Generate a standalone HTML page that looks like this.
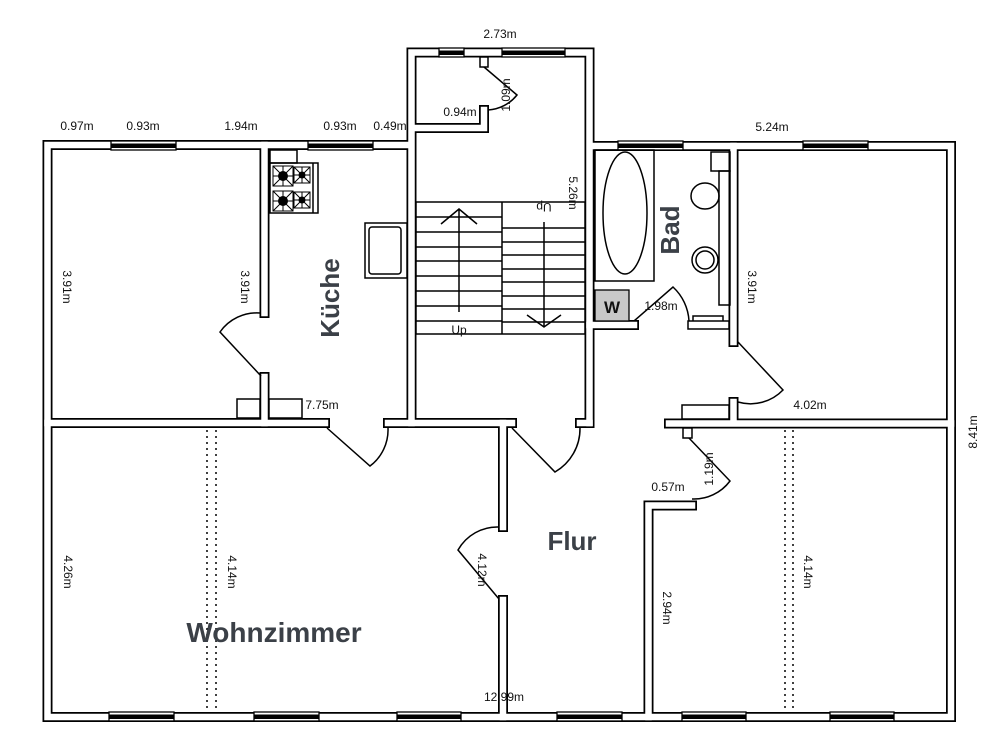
<!DOCTYPE html>
<html><head><meta charset="utf-8"><style>
html,body{margin:0;padding:0;background:#fff;}
svg{display:block;}
text{font-family:"Liberation Sans",sans-serif;fill:#111;}
.d{font-size:12px;}
.big{font-size:26px;font-weight:bold;fill:#3b4047;}
</style></head><body>
<svg width="1000" height="751" viewBox="0 0 1000 751" xmlns="http://www.w3.org/2000/svg">
<rect width="1000" height="751" fill="#fff"/>
<g fill="none" stroke-linecap="square">
<g stroke="#000" stroke-width="10">
<path d="M47.5,145 V717 H951 V146 H589.5 M47.5,145 H411.5 M411.5,423 V52.5 H589.5 V423"/>
<path d="M47.5,423 H325 M388,423 H512 M580,423 H589.5"/>
<path d="M264.5,145 V313 M264.5,377 V423"/>
<path d="M503,423 V527 M503,600 V717"/>
<path d="M648.5,717 V505.5 H692"/>
<path d="M669,423.5 H951"/>
<path d="M733.5,146 V342 M733.5,402 V423"/>
<path d="M589.5,325 H634"/>
<path d="M416,128 H484 V110"/>
</g>
<g stroke="#fff" stroke-width="6.5">
<path d="M47.5,145 V717 H951 V146 H589.5 M47.5,145 H411.5 M411.5,423 V52.5 H589.5 V423"/>
<path d="M47.5,423 H325 M388,423 H512 M580,423 H589.5"/>
<path d="M264.5,145 V313 M264.5,377 V423"/>
<path d="M503,423 V527 M503,600 V717"/>
<path d="M648.5,717 V505.5 H692"/>
<path d="M669,423.5 H951"/>
<path d="M733.5,146 V342 M733.5,402 V423"/>
<path d="M589.5,325 H634"/>
<path d="M416,128 H484 V110"/>
</g>
</g>
<g stroke="#000" stroke-width="1.3" fill="#fff">
<rect x="111" y="141" width="65" height="9"/><rect x="308" y="141" width="65" height="9"/>
<rect x="439" y="48" width="25" height="9"/><rect x="502" y="48" width="63" height="9"/>
<rect x="618" y="141" width="65" height="9"/><rect x="803" y="141" width="65" height="9"/>
<rect x="109" y="712" width="65" height="9"/><rect x="254" y="712" width="65" height="9"/>
<rect x="397" y="712" width="64" height="9"/><rect x="557" y="712" width="65" height="9"/>
<rect x="682" y="712" width="64" height="9"/><rect x="830" y="712" width="64" height="9"/>
</g>
<g fill="#000">
<rect x="111" y="143.5" width="65" height="4.5"/><rect x="308" y="143.5" width="65" height="4.5"/>
<rect x="439" y="50.5" width="25" height="4.5"/><rect x="502" y="50.5" width="63" height="4.5"/>
<rect x="618" y="143.5" width="65" height="4.5"/><rect x="803" y="143.5" width="65" height="4.5"/>
<rect x="109" y="714.5" width="65" height="4.5"/><rect x="254" y="714.5" width="65" height="4.5"/>
<rect x="397" y="714.5" width="64" height="4.5"/><rect x="557" y="714.5" width="65" height="4.5"/>
<rect x="682" y="714.5" width="64" height="4.5"/><rect x="830" y="714.5" width="64" height="4.5"/>
</g>
<g fill="none" stroke="#000" stroke-width="1.5">
<path d="M261,376 L220,332 A45,45 0 0 1 260,313"/>
<path d="M327,428 L370,466 A45,45 0 0 0 388,428"/>
<path d="M512,428 L555,472 A50,50 0 0 0 580,428"/>
<path d="M499,599 L458,550 A45,45 0 0 1 499,527"/>
<path d="M688,437 L730,481 A45,45 0 0 1 692,499"/>
<path d="M738,342 L783,390 A45,45 0 0 1 738,402"/>
<path d="M634,321 L673,287 A50,50 0 0 1 689,321"/>
<path d="M484,67 L517,95 A40,40 0 0 1 488,110"/>
<rect x="480" y="57" width="8" height="10" fill="#fff"/>
<rect x="683" y="428" width="9" height="10" fill="#fff"/>
<rect x="682" y="405" width="47" height="14" fill="#fff"/>
<rect x="237" y="399" width="23" height="19" fill="#fff"/>
<rect x="269" y="399" width="33" height="19" fill="#fff"/>
<rect x="688" y="321" width="41" height="8" fill="#fff"/>
<rect x="416" y="202" width="169" height="132"/>
<line x1="502" y1="202" x2="502" y2="334"/>
<path d="M416,217H502M416,232H502M416,247H502M416,261H502M416,276H502M416,291H502M416,306H502M416,321H502"/>
<path d="M502,228H585M502,242H585M502,255H585M502,269H585M502,282H585M502,296H585M502,309H585M502,322H585"/>
<path d="M459,312V209 M441,224L459,209L477,224"/>
<path d="M544,222V327 M527,315L544,327L561,315"/>
<rect x="270" y="150" width="27" height="13"/>
<rect x="270" y="163" width="48" height="50"/>
<line x1="313" y1="163" x2="313" y2="213"/>
<rect x="365" y="223" width="42" height="55"/>
<rect x="369" y="227" width="32" height="47" rx="3"/>
<rect x="595" y="150" width="59" height="131"/>
<ellipse cx="625" cy="213" rx="22" ry="61"/>
<rect x="711" y="152" width="19" height="19"/>
<rect x="719" y="171" width="11" height="134"/>
<ellipse cx="705" cy="196" rx="14" ry="13"/>
<circle cx="705" cy="260" r="13"/><circle cx="705" cy="260" r="9"/>
<path d="M693,321 V316 H723 V321"/>
</g>
<g stroke="#000" stroke-width="1">
<g transform="translate(283,176)"><rect x="-10" y="-10" width="20" height="20" fill="none"/><path d="M-10,-10L10,10M10,-10L-10,10M0,-10V10M-10,0H10"/><circle r="4.5"/></g>
<g transform="translate(283,201)"><rect x="-10" y="-10" width="20" height="20" fill="none"/><path d="M-10,-10L10,10M10,-10L-10,10M0,-10V10M-10,0H10"/><circle r="4.5"/></g>
<g transform="translate(302,175)"><rect x="-8" y="-8" width="16" height="16" fill="none"/><path d="M-8,-8L8,8M8,-8L-8,8M0,-8V8M-8,0H8"/><circle r="3"/></g>
<g transform="translate(302,200)"><rect x="-8" y="-8" width="16" height="16" fill="none"/><path d="M-8,-8L8,8M8,-8L-8,8M0,-8V8M-8,0H8"/><circle r="3"/></g>
</g>
<rect x="595" y="290" width="34" height="31" fill="#c8c8c8" stroke="#000" stroke-width="1.3"/>
<text x="612" y="313" font-size="17" font-weight="bold" text-anchor="middle">W</text>
<g stroke="#000" stroke-width="1.5" stroke-dasharray="2,4">
<line x1="207" y1="430" x2="207" y2="710"/><line x1="216" y1="430" x2="216" y2="710"/>
<line x1="785" y1="430" x2="785" y2="710"/><line x1="793" y1="430" x2="793" y2="710"/>
</g>
<g class="d" text-anchor="middle">
<text x="500" y="38" class="d">2.73m</text>
<text x="77" y="130" class="d">0.97m</text>
<text x="143" y="130" class="d">0.93m</text>
<text x="241" y="130" class="d">1.94m</text>
<text x="340" y="130" class="d">0.93m</text>
<text x="390" y="130" class="d">0.49m</text>
<text x="772" y="131" class="d">5.24m</text>
<text x="460" y="116" class="d">0.94m</text>
<text x="322" y="409" class="d">7.75m</text>
<text x="661" y="310" class="d">1.98m</text>
<text x="810" y="409" class="d">4.02m</text>
<text x="668" y="491" class="d">0.57m</text>
<text x="504" y="701" class="d">12.99m</text>
<text x="459" y="334" class="d">Up</text>
<text class="d" transform="translate(544,203) rotate(180)">Up</text>
<text class="d" transform="translate(569,193) rotate(90)">5.26m</text>
<text class="d" transform="translate(510,95) rotate(-90)">1.09m</text>
<text class="d" transform="translate(63,287) rotate(90)">3.91m</text>
<text class="d" transform="translate(241,287) rotate(90)">3.91m</text>
<text class="d" transform="translate(748,287) rotate(90)">3.91m</text>
<text class="d" transform="translate(977,432) rotate(-90)">8.41m</text>
<text class="d" transform="translate(713,469) rotate(-90)">1.19m</text>
<text class="d" transform="translate(64,572) rotate(90)">4.26m</text>
<text class="d" transform="translate(228,572) rotate(90)">4.14m</text>
<text class="d" transform="translate(478,570) rotate(90)">4.12m</text>
<text class="d" transform="translate(663,608) rotate(90)">2.94m</text>
<text class="d" transform="translate(804,572) rotate(90)">4.14m</text>
</g>
<g text-anchor="middle">
<text class="big" transform="translate(339,298) rotate(-90)">Küche</text>
<text class="big" transform="translate(679,230) rotate(-90)">Bad</text>
<text class="big" x="572" y="550">Flur</text>
<text class="big" x="274" y="642" style="font-size:28px">Wohnzimmer</text>
</g>
</svg>
</body></html>
